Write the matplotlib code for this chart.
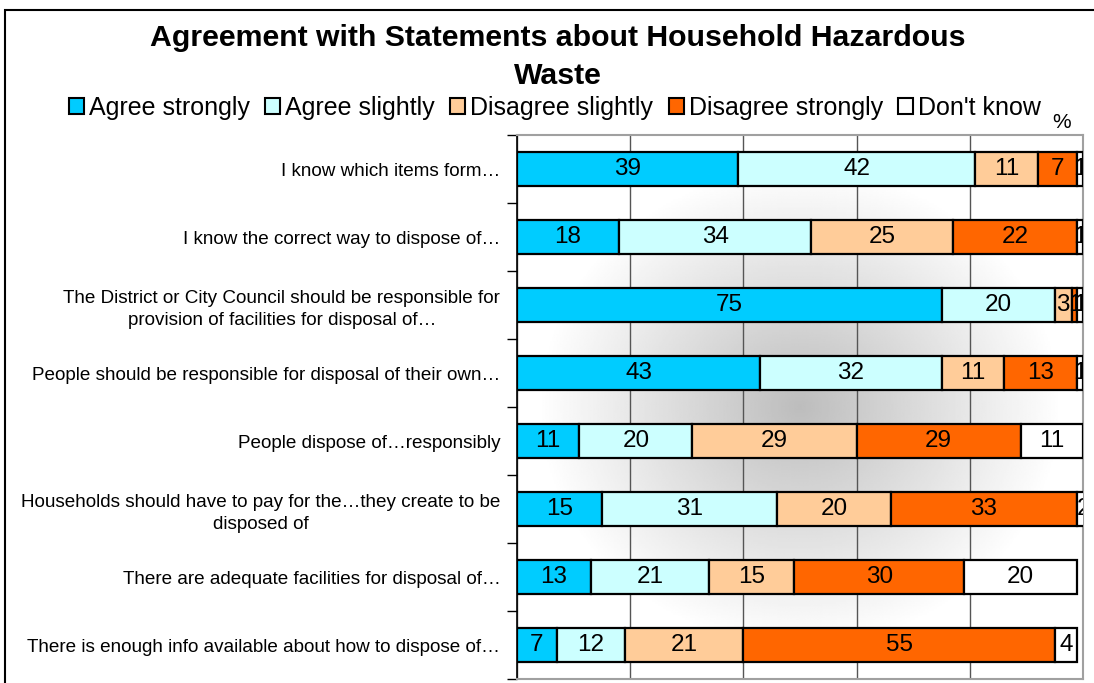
import numpy as np
import matplotlib
matplotlib.use("Agg")
import matplotlib.pyplot as plt
from matplotlib.patches import Rectangle, Patch

plt.rcParams['font.family'] = ['Liberation Sans', 'DejaVu Sans']

categories = [
    "I know which items form\u2026",
    "I know the correct way to dispose of\u2026",
    "The District or City Council should be responsible for\nprovision of facilities for disposal of\u2026",
    "People should be responsible for disposal of their own\u2026",
    "People dispose of\u2026responsibly",
    "Households should have to pay for the\u2026they create to be\ndisposed of",
    "There are adequate facilities for disposal of\u2026",
    "There is enough info available about how to dispose of\u2026",
]
series_names = ["Agree strongly", "Agree slightly", "Disagree slightly", "Disagree strongly", "Don't know"]
agree_strongly = [39, 18, 75, 43, 11, 15, 13, 7]
agree_slightly = [42, 34, 20, 32, 20, 31, 21, 12]
disagree_slightly = [11, 25, 3, 11, 29, 20, 15, 21]
disagree_strongly = [7, 22, 1, 13, 29, 33, 30, 55]
dont_know = [1, 1, 1, 1, 11, 2, 20, 4]
colors = ["#00CCFF", "#CCFFFF", "#FFCC99", "#FF6600", "#FFFFFF"]
series = [agree_strongly, agree_slightly, disagree_slightly, disagree_strongly, dont_know]

W, H = 1094, 683
fig = plt.figure(figsize=(W / 100, H / 100), dpi=100)
ax = fig.add_axes([517 / W, 1 - 679 / H, (1083 - 517) / W, 544 / H])

# radial gradient background
nx, ny = 400, 300
xx, yy = np.meshgrid(np.linspace(-1, 1, nx), np.linspace(-1, 1, ny))
r = np.sqrt(((xx - 0.0) / 1.0) ** 2 + ((yy - 0.0) / 0.95) ** 2)
val = np.clip(0.74 + 0.28 * r, 0, 1)
ax.imshow(val, cmap="gray", vmin=0, vmax=1, extent=[0, 100, 7.5, -0.5],
          aspect="auto", zorder=0, interpolation="bilinear")

y = np.arange(len(categories))
left = np.zeros(len(categories))
for vals, col in zip(series, colors):
    vals = np.array(vals, dtype=float)
    bars = ax.barh(y, vals, left=left, height=0.5, color=col, edgecolor="black",
                   linewidth=1.6, zorder=3)
    for yi, (l, v) in enumerate(zip(left, vals)):
        ax.text(l + v / 2, yi, f"{int(v)}", ha="center", va="center",
                fontsize=17.5, zorder=4, clip_on=True)
    left += vals

ax.set_xlim(0, 100)
ax.set_ylim(7.5, -0.5)
ax.set_xticks([0, 20, 40, 60, 80, 100])
ax.xaxis.grid(True, color="#555555", linewidth=1.0, zorder=1)
ax.set_axisbelow(True)
ax.tick_params(axis="x", length=0, labelbottom=False)
ax.set_yticks(y)
ax.set_yticklabels(categories, fontsize=13.6, multialignment="center", linespacing=1.4)
ax.tick_params(axis="y", length=0, pad=12)
ax.set_yticks(np.arange(-0.5, 8.0, 1.0), minor=True)
ax.tick_params(axis="y", which="minor", length=7, width=1, color="black", direction="out")
for s in ["top", "right", "bottom"]:
    ax.spines[s].set_color("#A0A0A0")
    ax.spines[s].set_linewidth(1.5)
ax.spines["left"].set_color("black")
ax.spines["left"].set_linewidth(1.2)

# figure border
fig.patches.append(Rectangle((5 / W, -0.1), 1.2, 1 - 10 / H + 0.1, transform=fig.transFigure,
                             fill=False, edgecolor="black", linewidth=1.5))

fig.text(558 / W, 1 - 57 / H, "Agreement with Statements about Household Hazardous\nWaste",
         ha="center", va="center", fontsize=21.8, fontweight="bold", linespacing=1.5)

handles = [Patch(facecolor=c, edgecolor="black", linewidth=1.5) for c in colors]
fig.legend(handles, series_names, loc="center", bbox_to_anchor=(555 / W, 1 - 108 / H),
           ncol=5, frameon=False, fontsize=18, handlelength=0.6, handleheight=0.6,
           handletextpad=0.2, columnspacing=0.62, borderpad=0)

fig.text(1062 / W, 1 - 122 / H, "%", ha="center", va="center", fontsize=15)

fig.savefig("out.png", dpi=100)
